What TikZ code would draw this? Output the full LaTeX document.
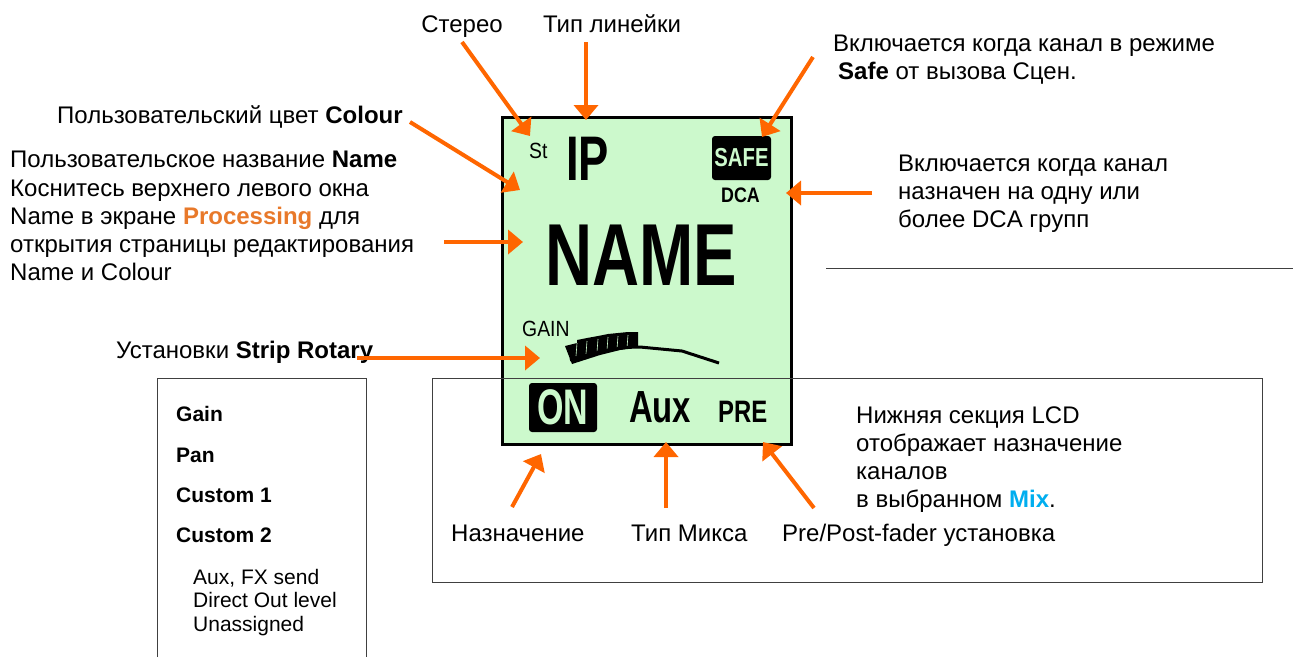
\documentclass[tikz,border=0pt]{standalone}
\usepackage{fontspec}
\setmainfont{Liberation Sans}
\usetikzlibrary{arrows.meta}
\definecolor{arr}{HTML}{FF6600}
\definecolor{lcdg}{HTML}{CCF9CC}
\definecolor{proc}{HTML}{E8792A}
\definecolor{mixc}{HTML}{00AEEF}
\definecolor{boxc}{HTML}{404040}
\begin{document}
\begin{tikzpicture}[x=1pt,y=-1pt,
  lbl/.style={font=\fontsize{24}{28}\selectfont, inner sep=0pt, anchor=base west},
  lblc/.style={font=\fontsize{24}{28}\selectfont, inner sep=0pt, anchor=base},
  lst/.style={font=\fontsize{21}{24}\selectfont, inner sep=0pt, anchor=base west},
  lstb/.style={font=\fontsize{21}{24}\selectfont\bfseries, inner sep=0pt, anchor=base west},
  callout/.style={draw=arr, line width=4pt, -{Triangle[length=15pt,width=24pt]}},
  framebox/.style={draw=boxc, line width=1pt},
  lcdtxt/.style={inner sep=0pt, anchor=base west},
  invbox/.style={fill=black, rounded corners=3pt}]
\useasboundingbox (0,0) rectangle (1293,657);

% LCD panel
\node[draw=black, line width=3pt, fill=lcdg, minimum width=289pt, minimum height=327pt,
      inner sep=0pt, anchor=north west] (lcd) at (501,116) {};

\node[lcdtxt, font=\fontsize{22}{22}\selectfont] (st) at (529,158) {\scalebox{0.88}[1]{St}};
\node[lcdtxt, font=\fontsize{63}{63}\selectfont\bfseries] (ip) at (566,180) {\scalebox{0.72}[1]{IP}};
\node[invbox, minimum width=59pt, minimum height=44pt, inner sep=0pt] (safe) at (741.5,158) {};
\node[inner sep=0pt, text=lcdg, font=\fontsize{26}{26}\selectfont\bfseries] at (safe.center) {\scalebox{0.78}[1]{SAFE}};
\node[lcdtxt, font=\fontsize{21}{21}\selectfont\bfseries] (dca) at (721,202) {\scalebox{0.85}[1]{DCA}};
\node[lcdtxt, font=\fontsize{88}{88}\selectfont\bfseries] (name) at (545,285) {\scalebox{0.74}[1]{NAME}};
\node[lcdtxt, font=\fontsize{22}{22}\selectfont] (gain) at (522,336) {\scalebox{0.88}[1]{GAIN}};

% gain meter
\fill[black] (565,346) -- (577,343) -- (577,340) -- (587,338) -- (598,336) -- (608,334) -- (618,333) -- (628,332)
  -- (638,332) -- (638,347) -- (620,350) -- (600,355) -- (572,364) -- cycle;
\foreach \xx/\yy in {577/341,587/339,598/337,608/335,618/334,628/333}
  \draw[lcdg, line width=0.6pt] (\xx,\yy+2) -- (\xx-1,\yy+15);
\draw[line width=3pt] (570,360) .. controls (600,351) and (620,347) .. (640,347) -- (682,351) -- (719,363);

\node[invbox, minimum width=68pt, minimum height=49pt, inner sep=0pt] (on) at (563,407.5) {};
\node[inner sep=0pt, text=lcdg, font=\fontsize{50}{50}\selectfont\bfseries] at (on.center) {\scalebox{0.68}[1]{ON}};
\node[lcdtxt, font=\fontsize{45}{45}\selectfont\bfseries] (aux) at (629,422) {\scalebox{0.73}[1]{Aux}};
\node[lcdtxt, font=\fontsize{31}{31}\selectfont\bfseries] (pre) at (718,422) {\scalebox{0.77}[1]{PRE}};

% frames
\draw[framebox] (157,657) -- (157,378) -- (366,378) -- (366,657);
\draw[framebox] (432,378) rectangle (1262,582);
\draw[framebox] (826,268) -- (1293,268);

% labels top
\node[lblc] (stereo) at (462,32) {Стерео};
\node[lblc] (ruler) at (612,32) {Тип линейки};
\node[lbl] (colour) at (57,123) {Пользовательский цвет \textbf{Colour}};
\node[lbl] (n1) at (10,167) {Пользовательское название \textbf{Name}};
\node[lbl] (n2) at (10,196) {Коснитесь верхнего левого окна};
\node[lbl] (n3) at (10,224) {Name в экране \textcolor{proc}{\textbf{Processing}} для};
\node[lbl] (n4) at (10,252) {открытия страницы редактирования};
\node[lbl] (n5) at (10,280) {Name и Colour};
\node[lbl] (strip) at (116,358) {Установки \textbf{Strip Rotary}};
\node[lbl] (s1) at (833,51) {Включается когда канал в режиме};
\node[lbl] (s2) at (838,79) {\textbf{Safe} от вызова Сцен.};
\node[lbl] (d1) at (898,171) {Включается когда канал};
\node[lbl] (d2) at (898,199) {назначен на одну или};
\node[lbl] (d3) at (898,227) {более DCA групп};

% list box
\node[lstb] (g1) at (176,421) {Gain};
\node[lstb] (g2) at (176,462) {Pan};
\node[lstb] (g3) at (176,502) {Custom 1};
\node[lstb] (g4) at (176,542) {Custom 2};
\node[lst] (g5) at (193,584) {Aux, FX send};
\node[lst] (g6) at (193,607) {Direct Out level};
\node[lst] (g7) at (193,631) {Unassigned};

% bottom box texts
\node[lbl] (b1) at (856,423) {Нижняя секция LCD};
\node[lbl] (b2) at (856,451) {отображает назначение};
\node[lbl] (b3) at (856,479) {каналов};
\node[lbl] (b4) at (856,507) {в выбранном \textcolor{mixc}{\textbf{Mix}}.};
\node[lbl] (assign) at (451,541) {Назначение};
\node[lbl] (mixtype) at (631,541) {Тип Микса};
\node[lbl] (prepost) at (782,541) {Pre/Post-fader установка};

% arrow coordinates
\coordinate (a1s) at (462,42);  \coordinate (a1e) at (530,136);
\coordinate (a2s) at (586,42);  \coordinate (a2e) at (586,120);
\coordinate (a3s) at (410,122); \coordinate (a3e) at (520,190);
\coordinate (a4s) at (444,242); \coordinate (a4e) at (523,242);
\coordinate (a5s) at (357,358); \coordinate (a5e) at (540,358);
\coordinate (a6s) at (813,57);  \coordinate (a6e) at (762,137);
\coordinate (a7s) at (872,193); \coordinate (a7e) at (786,193);
\coordinate (a8s) at (512,507); \coordinate (a8e) at (541,454);
\coordinate (a9s) at (666,508); \coordinate (a9e) at (666,442);
\coordinate (a10s) at (814,508); \coordinate (a10e) at (763,442);

\draw[callout] (a1s) -- (a1e);
\draw[callout] (a2s) -- (a2e);
\draw[callout] (a3s) -- (a3e);
\draw[callout] (a4s) -- (a4e);
\draw[callout] (a5s) -- (a5e);
\draw[callout] (a6s) -- (a6e);
\draw[callout] (a7s) -- (a7e);
\draw[callout] (a8s) -- (a8e);
\draw[callout] (a9s) -- (a9e);
\draw[callout] (a10s) -- (a10e);
\end{tikzpicture}
\end{document}
